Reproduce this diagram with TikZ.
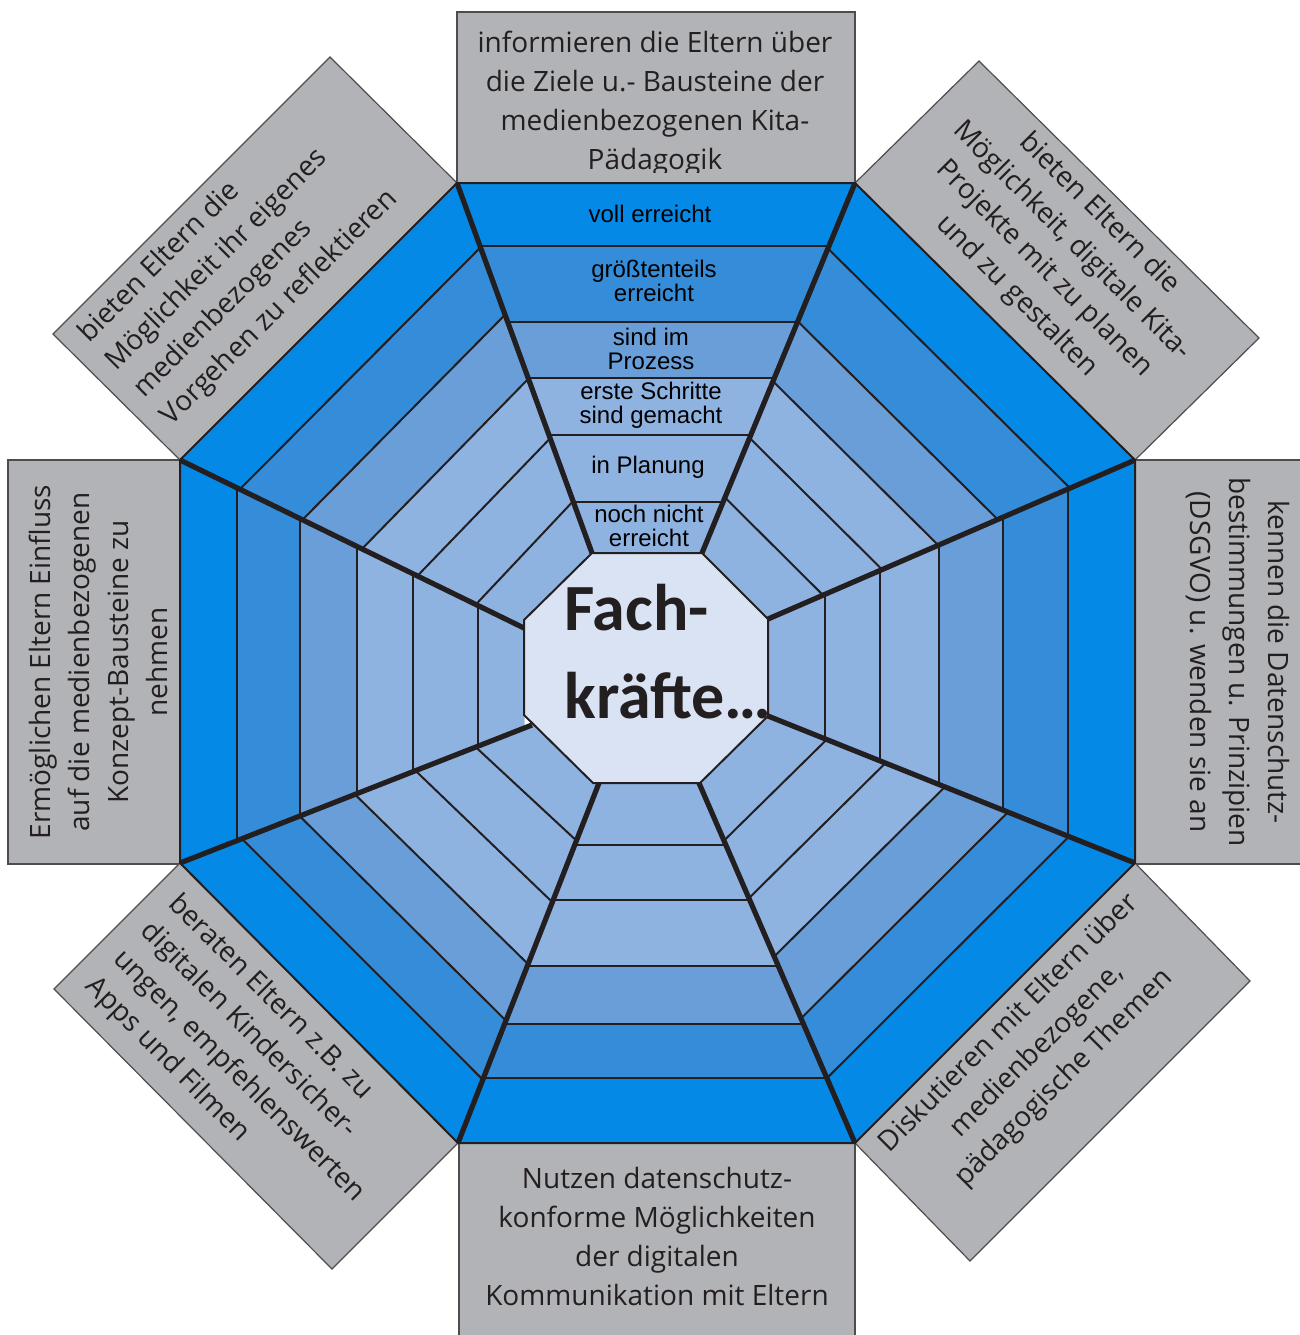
\documentclass[tikz,border=0pt]{standalone}
\usepackage{fontspec}
\setmainfont{Open Sans}
\newfontfamily\arialfont{Liberation Sans}
\newfontfamily\calibrifont{Carlito}
\usetikzlibrary{calc}

\definecolor{ringA}{RGB}{5,137,230}
\definecolor{ringB}{RGB}{53,141,217}
\definecolor{ringC}{RGB}{105,158,217}
\definecolor{ringD}{RGB}{143,179,225}
\definecolor{centrefill}{RGB}{218,227,243}
\definecolor{boxgrey}{RGB}{178,179,183}
\definecolor{linedark}{RGB}{35,31,32}

\tikzset{
	greybox/.style={fill=boxgrey, draw=linedark!80, line width=0.6pt},
	boxtext/.style={text=linedark, font=\fontsize{14}{19.5}\selectfont, align=center, inner sep=0pt},
	ringline/.style={draw=linedark, line width=1pt},
	spoke/.style={draw=linedark, line width=2.6pt},
	levellabel/.style={font=\arialfont\fontsize{12}{12}\selectfont, align=center, inner sep=0pt, text=black},
}

\begin{document}
\begin{tikzpicture}[x=0.5pt, y=-0.5pt]
		%%%%% START %%%%%
		\useasboundingbox (0,0) rectangle (1300,1335);
		\clip (0,0) rectangle (1300,1335);
		
		% outer octagon
		\coordinate (o1) at (457,183);
		\coordinate (o2) at (855,183);
		\coordinate (o3) at (1135,460);
		\coordinate (o4) at (1135,863);
		\coordinate (o5) at (855,1143);
		\coordinate (o6) at (458,1143);
		\coordinate (o7) at (180,863);
		\coordinate (o8) at (180,460);
		
		% inner octagon
		\coordinate (c1) at (592,553);
		\coordinate (c2) at (702,553);
		\coordinate (c3) at (768,619);
		\coordinate (c4) at (768,716);
		\coordinate (c5) at (700,783);
		\coordinate (c6) at (593,783);
		\coordinate (c7) at (524,715);
		\coordinate (c8) at (524,620);
		
		% spoke ends
		\coordinate (s1) at (592,553);
		\coordinate (s2) at (702,553);
		\coordinate (s3) at (768,619);
		\coordinate (s4) at (768,716);
		\coordinate (s5) at (699,783);
		\coordinate (s6) at (599,783);
		\coordinate (s7) at (532,725);
		\coordinate (s8) at (524,628);
		\coordinate (t7) at (524,728);
		
		% grey boxes
		\draw[greybox] (457,12) rectangle (855,183);
		\draw[greybox] (459,1143) rectangle (855,1345);
		\draw[greybox] (8,460) rectangle (180,864);
		\draw[greybox] (1135,460) rectangle (1350,864);
		\draw[greybox] (o8) -- (o1) -- (330,57) -- (53,334) -- cycle;
		\draw[greybox] (o2) -- (o3) -- (1259,338) -- (979,61) -- cycle;
		\draw[greybox] (o7) -- (o6) -- (332,1269) -- (54,989) -- cycle;
		\draw[greybox] (o4) -- (o5) -- (970,1261) -- (1250,981) -- cycle;
		
		\begin{scope}
			\clip (457,12) rectangle (855,172);
			\node[boxtext] (ttop) at (655,103.5) {informieren die Eltern über\\die Ziele u.- Bausteine der\\medienbezogenen Kita-\\Pädagogik};
		\end{scope}
		\node[boxtext] (tbottom) at (657,1236) {Nutzen datenschutz-\\konforme Möglichkeiten\\der digitalen\\Kommunikation mit Eltern};
		\node[boxtext, rotate=90] (tleft) at (98,662) {Ermöglichen Eltern Einfluss\\auf die medienbezogenen\\Konzept-Bausteine zu\\nehmen};
		\node[boxtext, rotate=-90] (tright) at (1238,662) {kennen die Datenschutz-\\bestimmungen u. Prinzipien\\(DSGVO) u. wenden sie an};
		\node[boxtext, rotate=45, anchor=west, align=left] (ttopleft) at (125,380) {bieten Eltern die\\Möglichkeit ihr eigenes\\medienbezogenes\\Vorgehen zu reflektieren};
		\node[boxtext, rotate=-45] (ttopright) at (1058,255) {bieten Eltern die\\Möglichkeit, digitale Kita-\\Projekte mit zu planen\\und zu gestalten};
		\node[boxtext, rotate=-45, anchor=west, align=left] (tbottomleft) at (131,941) {beraten Eltern z.B. zu\\digitalen Kindersicher-\\ungen, empfehlenswerten\\Apps und Filmen};
		\node[boxtext, rotate=45] (tbottomright) at (1037,1051) {Diskutieren mit Eltern über\\medienbezogene,\\pädagogische Themen};
		
		% sectors
		\foreach \p/\q/\ip/\iq/\fa/\fb/\fc/\fd/\fe in {1/2/s1/s2/0.170/0.376/0.527/0.681/0.862, 2/3/s2/s3/0.177/0.374/0.536/0.689/0.85, 3/4/s3/s4/0.183/0.360/0.534/0.695/0.845, 4/5/s4/s5/0.18/0.346/0.518/0.68/0.84, 5/6/s5/s6/0.181/0.331/0.493/0.674/0.827, 6/7/s6/s7/0.176/0.34/0.497/0.669/0.84, 7/8/t7/s8/0.166/0.349/0.515/0.677/0.866, 8/1/s8/s1/0.174/0.356/0.529/0.69/0.86}{
			\foreach \f/\c in {0/ringA, \fa/ringB, \fb/ringC, \fc/ringD}
				\fill[\c] ($(o\p)!\f!(\ip)$) -- ($(o\q)!\f!(\iq)$) -- (\iq) -- (\ip) -- cycle;
			\foreach \f in {\fa, \fb, \fc, \fd, \fe}
				\draw[ringline] ($(o\p)!\f!(\ip)$) -- ($(o\q)!\f!(\iq)$);
		}
		
		\draw[ringline] (o1) -- (o2) -- (o3) -- (o4) -- (o5) -- (o6) -- (o7) -- (o8) -- cycle;
		\foreach \k in {1,...,8}
			\draw[spoke] (o\k) -- (s\k);
		
		\draw[ringline, fill=centrefill] (c1) -- (c2) -- (c3) -- (c4) -- (c5) -- (c6) -- (c7) -- (c8) -- cycle;
		\node[font=\calibrifont\bfseries\fontsize{33}{44}\selectfont, align=left, anchor=west, inner sep=0pt, text=linedark] (fach) at (564,651.5) {Fach-\\kräfte…};
		
		% levels
		\node[levellabel] (voll) at (650,214) {voll erreicht};
		\node[levellabel] (groesst) at (654,281) {größtenteils\\erreicht};
		\node[levellabel] (prozess) at (651,349) {sind im\\Prozess};
		\node[levellabel] (schritte) at (651,405) {erste Schritte\\sind gemacht};
		\node[levellabel] (planung) at (648,467) {in Planung};
		\node[levellabel] (nicht) at (649,526) {noch nicht\\erreicht};
		
		%%%%% END %%%%%
	\end{tikzpicture}
\end{document}
